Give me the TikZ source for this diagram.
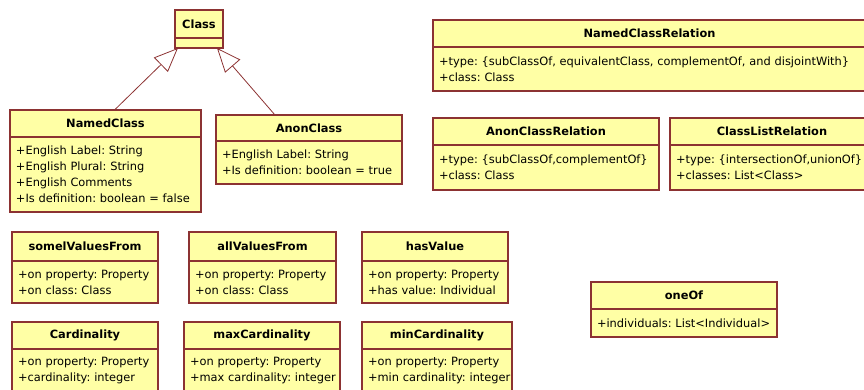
\documentclass[tikz,border=0pt]{standalone}
\usepackage{fontspec}
\setmainfont{DejaVu Sans}
\usepackage{tikz}
\usetikzlibrary{positioning,arrows.meta}

\definecolor{umlfill}{RGB}{255,255,165}
\definecolor{umlline}{RGB}{140,50,50}
\newcommand{\umlfont}{\fontsize{11.4}{16}\selectfont}
\frenchspacing
\hyphenpenalty=10000
\exhyphenpenalty=10000

\begin{document}
\begin{tikzpicture}[
  x=1pt,y=-1pt,
  umlhead/.style={rectangle,draw=umlline,fill=umlfill,line width=1.2pt,inner sep=0pt,outer sep=0pt,anchor=north west,font=\umlfont\bfseries},
  umlbody/.style={rectangle,draw=umlline,fill=umlfill,line width=1.2pt,inner xsep=6pt,inner ysep=0pt,outer sep=0pt,align=left,font=\umlfont},
  gen/.style={-{Triangle[open,length=24pt,width=20pt]},draw=umlline,line width=0.8pt},
]
\clip (0,0) rectangle (864,389);

% Class and its two subclasses
\node[umlhead,minimum width=48pt,minimum height=28pt] (cls) at (175,10) {Class};
\node[umlbody,text width=36pt,minimum height=10pt,below=0pt of cls] (cls-attr) {};

\node[umlhead,minimum width=191pt,minimum height=27pt] (nc) at (10,110) {NamedClass};
\node[umlbody,text width=179pt,minimum height=75pt,below=0pt of nc] (nc-attr) {+English Label: String\\+English Plural: String\\+English Comments\\+Is definition: boolean = false};

\node[umlhead,minimum width=186pt,minimum height=26pt] (ac) at (216,115) {AnonClass};
\node[umlbody,text width=174pt,minimum height=43pt,below=0pt of ac] (ac-attr) {+English Label: String\\+Is definition: boolean = true};

\draw[gen] ([xshift=9pt]nc.north) -- ([xshift=3pt]cls-attr.south west);
\draw[gen] ([xshift=-34pt]ac.north) -- ([xshift=-6pt]cls-attr.south east);

% Relations
\node[umlhead,minimum width=440pt,minimum height=27pt] (ncr) at (433,20) {\hspace*{-7pt}NamedClassRelation};
\node[umlbody,text width=428pt,minimum height=44pt,below=0pt of ncr] (ncr-attr) {+type: \{subClassOf, equivalentClass, complementOf, and disjointWith\}\\+class: Class};

\node[umlhead,minimum width=226pt,minimum height=27pt] (acr) at (433,118) {AnonClassRelation};
\node[umlbody,text width=214pt,minimum height=45pt,below=0pt of acr] (acr-attr) {+type: \{subClassOf,complementOf\}\\+class: Class};

\node[umlhead,minimum width=210pt,minimum height=27pt] (clr) at (670,118) {\hspace*{-6pt}ClassListRelation};
\node[umlbody,text width=198pt,minimum height=45pt,below=0pt of clr] (clr-attr) {+type: \{intersectionOf,unionOf\}\\+classes: List<Class>};

% Restrictions
\node[umlhead,minimum width=146pt,minimum height=29pt] (svf) at (12,232) {somelValuesFrom};
\node[umlbody,text width=134pt,minimum height=42pt,below=0pt of svf] (svf-attr) {+on property: Property\\+on class: Class};

\node[umlhead,minimum width=147pt,minimum height=29pt] (avf) at (189,232) {allValuesFrom};
\node[umlbody,text width=135pt,minimum height=42pt,below=0pt of avf] (avf-attr) {+on property: Property\\+on class: Class};

\node[umlhead,minimum width=146pt,minimum height=29pt] (hv) at (362,232) {hasValue};
\node[umlbody,text width=134pt,minimum height=42pt,below=0pt of hv] (hv-attr) {+on property: Property\\+has value: Individual};

\node[umlhead,minimum width=146pt,minimum height=27pt] (card) at (12,322) {Cardinality};
\node[umlbody,text width=134pt,minimum height=44pt,below=0pt of card] (card-attr) {+on property: Property\\+cardinality: integer};

\node[umlhead,minimum width=156pt,minimum height=27pt] (maxc) at (184,322) {maxCardinality};
\node[umlbody,text width=144pt,minimum height=44pt,below=0pt of maxc] (maxc-attr) {+on property: Property\\\mbox{+max cardinality: integer}};

\node[umlhead,minimum width=150pt,minimum height=27pt] (minc) at (362,322) {minCardinality};
\node[umlbody,text width=138pt,minimum height=44pt,below=0pt of minc] (minc-attr) {+on property: Property\\\mbox{+min cardinality: integer}};

% Enumeration
\node[umlhead,minimum width=186pt,minimum height=27pt] (one) at (591,282) {oneOf};
\node[umlbody,text width=174pt,minimum height=28pt,below=0pt of one] (one-attr) {+individuals: List<Individual>};
\end{tikzpicture}
\end{document}
